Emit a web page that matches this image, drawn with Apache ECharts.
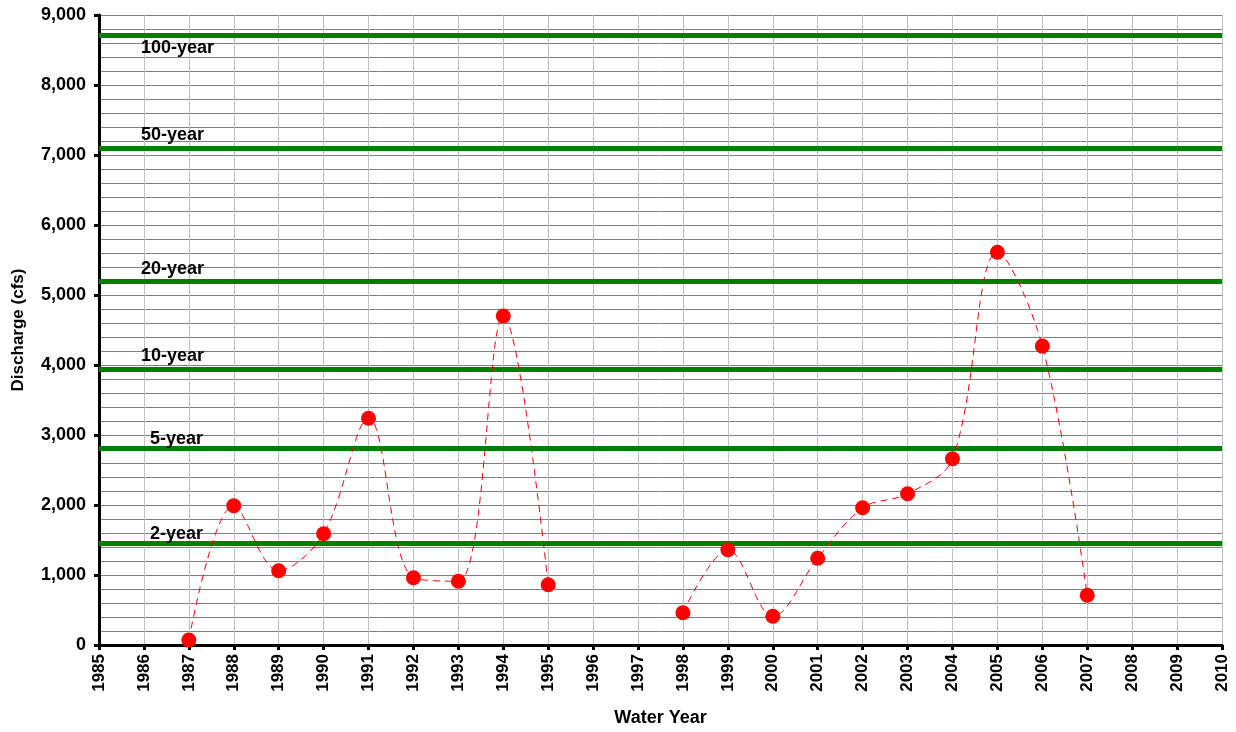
<!DOCTYPE html>
<html><head><meta charset="utf-8">
<script src="https://cdn.jsdelivr.net/npm/echarts@6/dist/echarts.min.js"></script>
<style>html,body{margin:0;padding:0;background:#fff}#c{width:1236px;height:732px}</style>
</head><body><div id="c"></div>
<script>
const years = [1987,1988,1989,1990,1991,1992,1993,1994,1995,1996,1997,1998,1999,2000,2001,2002,2003,2004,2005,2006,2007];
const discharge = [70,1990,1060,1590,3240,960,910,4700,860,null,null,460,1360,410,1240,1960,2160,2660,5610,4270,710];
const floodNames = ['100-year','50-year','20-year','10-year','5-year','2-year'];
const floodValues = [8710,7100,5190,3940,2810,1460];
const xMin = 1985, xMax = 2010;

const font = 'Liberation Sans, Arial, sans-serif';
const chart = echarts.init(document.getElementById('c'));

const markData = floodNames.map((n,i)=>({
  yAxis: floodValues[i],
  label:{
    show:true, formatter:n,
    position: i===0 ? 'insideStartBottom' : 'insideStartTop',
    distance: [n.length===6 ? 51 : 42, i>=4 ? 0 : 4],
    color:'#000', fontWeight:'bold', fontSize:18, fontFamily:font
  }
}));

chart.setOption({
  animation:false,
  grid:{left:99, right:14, top:15, bottom:87, outerBoundsMode:'none', containLabel:false},
  xAxis:{
    type:'value', min:xMin, max:xMax, interval:1,
    name:'Water Year', nameLocation:'middle', nameGap:64,
    nameTextStyle:{fontWeight:'bold', fontSize:18, fontFamily:font, color:'#000'},
    axisLine:{show:true, lineStyle:{color:'#000', width:3}},
    axisTick:{show:true, length:5, lineStyle:{color:'#000', width:3}},
    axisLabel:{rotate:90, fontWeight:'bold', fontSize:17, fontFamily:font, color:'#000', margin:9, formatter:v=>String(v)},
    splitLine:{show:true, lineStyle:{color:'#c0c0c0', width:1}}
  },
  yAxis:{
    type:'value', min:0, max:9000, interval:1000,
    name:'Discharge (cfs)', nameLocation:'middle', nameGap:72,
    nameTextStyle:{fontWeight:'bold', fontSize:17, fontFamily:font, color:'#000'},
    axisLine:{show:true, lineStyle:{color:'#000', width:3}},
    axisTick:{show:true, length:5, lineStyle:{color:'#000', width:3}},
    axisLabel:{fontWeight:'bold', fontSize:18, fontFamily:font, color:'#000', margin:13,
      formatter:v=>v.toLocaleString('en-US')},
    splitLine:{show:true, lineStyle:{color:'#808080', width:1}},
    minorTick:{show:false, splitNumber:5},
    minorSplitLine:{show:true, lineStyle:{color:'#808080', width:1}}
  },
  series:[
    {
      type:'line', name:'Flood', silent:true, data:[], z:3,
      markLine:{
        symbol:'none', silent:true, animation:false,
        lineStyle:{color:'#008000', width:5, type:'solid'},
        data: markData
      }
    },
    {
      type:'line', name:'Peak', z:5,
      data: years.map((y,i)=>[y, discharge[i]]),
      smooth:0.35, connectNulls:false,
      symbol:'circle', symbolSize:15,
      itemStyle:{color:'#ff0000'},
      lineStyle:{color:'#ff0000', width:1, type:[7,5]}
    }
  ]
});
</script></body></html>
